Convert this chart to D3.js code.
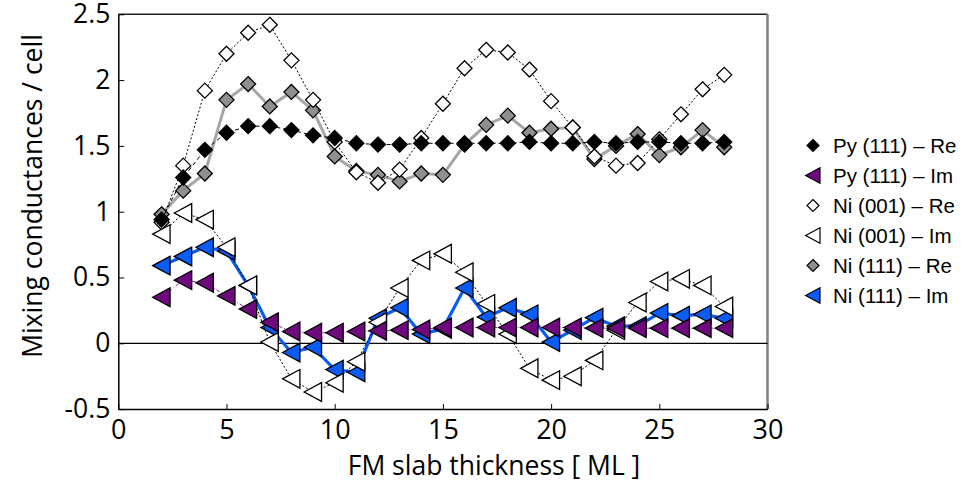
<!DOCTYPE html>
<html>
<head>
<meta charset="utf-8">
<script src="https://cdn.jsdelivr.net/npm/d3@7"></script>
<style>
  html, body { margin: 0; padding: 0; background: #fff; }
  svg { display: block; }
</style>
</head>
<body>
<svg id="chart" width="967" height="486"></svg>
<script>
// FM slab thickness in monolayers
const thickness = [2, 3, 4, 5, 6, 7, 8, 9, 10, 11, 12, 13, 14, 15, 16, 17, 18, 19, 20, 21, 22, 23, 24, 25, 26, 27, 28];

// Mixing conductances per cell, real and imaginary parts
const pyRe111 = [0.94, 1.26, 1.47, 1.60, 1.65, 1.65, 1.62, 1.58, 1.56, 1.52, 1.51, 1.51, 1.52, 1.52, 1.52, 1.52, 1.52, 1.53, 1.52, 1.52, 1.53, 1.52, 1.53, 1.53, 1.52, 1.52, 1.53];
const pyIm111 = [0.35, 0.48, 0.46, 0.36, 0.26, 0.16, 0.09, 0.08, 0.08, 0.09, 0.095, 0.10, 0.105, 0.12, 0.12, 0.12, 0.12, 0.12, 0.12, 0.12, 0.115, 0.115, 0.115, 0.115, 0.115, 0.115, 0.115];
const niRe001 = [0.92, 1.35, 1.92, 2.20, 2.36, 2.42, 2.15, 1.85, 1.53, 1.30, 1.22, 1.32, 1.56, 1.82, 2.09, 2.23, 2.21, 2.08, 1.84, 1.64, 1.42, 1.35, 1.37, 1.55, 1.74, 1.93, 2.04];
const niIm001 = [0.83, 0.99, 0.94, 0.73, 0.44, 0.01, -0.27, -0.37, -0.30, -0.14, 0.16, 0.42, 0.63, 0.68, 0.54, 0.30, 0.07, -0.19, -0.28, -0.25, -0.13, 0.10, 0.31, 0.47, 0.49, 0.44, 0.28];
const niRe111 = [0.98, 1.16, 1.29, 1.85, 1.97, 1.80, 1.91, 1.77, 1.42, 1.31, 1.28, 1.23, 1.29, 1.28, 1.51, 1.66, 1.73, 1.60, 1.63, 1.64, 1.40, 1.50, 1.59, 1.43, 1.49, 1.62, 1.49];
const niIm111 = [0.59, 0.66, 0.73, 0.70, 0.44, 0.12, -0.07, -0.03, -0.20, -0.22, 0.19, 0.27, 0.07, 0.11, 0.42, 0.20, 0.27, 0.22, 0.01, 0.10, 0.195, 0.13, 0.13, 0.23, 0.21, 0.22, 0.19];

// Axis ticks
const xTicks = [0, 5, 10, 15, 20, 25, 30];
const yTicks = [-0.5, 0, 0.5, 1, 1.5, 2, 2.5];

// Series in legend order
const seriesNames = ["Py (111) \u2013 Re", "Py (111) \u2013 Im", "Ni (001) \u2013 Re", "Ni (001) \u2013 Im", "Ni (111) \u2013 Re", "Ni (111) \u2013 Im"];
const seriesValues = [pyRe111, pyIm111, niRe001, niIm001, niRe111, niIm111];

const styles = [
  { shape: "diamond",  fill: "#000000", line: "#000000", width: 1,   dash: "4,3" },
  { shape: "triangle", fill: "#6e0a7e", line: "#8a2a9a", width: 1,   dash: "4,2,1,2" },
  { shape: "diamond",  fill: "#ffffff", line: "#000000", width: 1,   dash: "2,2" },
  { shape: "triangle", fill: "#ffffff", line: "#000000", width: 1,   dash: "2,2" },
  { shape: "diamond",  fill: "#8f8f8f", line: "#a6a6a6", width: 3,   dash: null },
  { shape: "triangle", fill: "#0a5cf5", line: "#0a5cf5", width: 3.2, dash: null }
];
// Paint order: Ni (111) underneath, then Ni (001), Py on top
const drawOrder = [4, 5, 2, 3, 0, 1];

const svg = d3.select("#chart");
const plot = { left: 118.3, right: 767.5, top: 14.3, bottom: 409.1 };

const x = d3.scaleLinear().domain([0, 30]).range([plot.left, plot.right]);
const y = d3.scaleLinear().domain([-0.5, 2.5]).range([plot.bottom, plot.top]);

function markerPath(shape, s) {
  if (shape === "diamond") {
    return `M0,${-s}L${s},0L0,${s}L${-s},0Z`;
  }
  // left-pointing triangle
  const w = s * 1.05, h = s * 1.1;
  return `M${-w},0L${w * 0.95},${-h}L${w * 0.95},${h}Z`;
}

// Frame: top and right borders
svg.append("line")
  .attr("x1", plot.left).attr("x2", plot.right)
  .attr("y1", plot.top).attr("y2", plot.top)
  .attr("stroke", "#222").attr("stroke-width", 1.5);
svg.append("line")
  .attr("x1", plot.right).attr("x2", plot.right)
  .attr("y1", plot.top).attr("y2", plot.bottom)
  .attr("stroke", "#808080").attr("stroke-width", 2.5);

// Zero reference line
svg.append("line")
  .attr("x1", plot.left).attr("x2", plot.right)
  .attr("y1", y(0)).attr("y2", y(0))
  .attr("stroke", "#000").attr("stroke-width", 1.2);

const tickFont = "'Open Sans', sans-serif";

// X axis
const gx = svg.append("g")
  .attr("transform", `translate(0,${plot.bottom})`)
  .call(d3.axisBottom(x).tickValues(xTicks).tickFormat(d => String(d))
    .tickSizeInner(-5).tickSizeOuter(0).tickPadding(11));
gx.select(".domain").attr("stroke", "#000").attr("stroke-width", 1.5);
gx.selectAll(".tick line").attr("stroke", "#000");
gx.selectAll(".tick text")
  .attr("font-family", tickFont).attr("font-size", 27).attr("fill", "#000");

// Y axis
const gy = svg.append("g")
  .attr("transform", `translate(${plot.left},0)`)
  .call(d3.axisLeft(y).tickValues(yTicks).tickFormat(d => String(d))
    .tickSizeInner(-6).tickSizeOuter(0).tickPadding(8));
gy.select(".domain").attr("stroke", "#000").attr("stroke-width", 1.5);
gy.selectAll(".tick line").attr("stroke", "#000");
gy.selectAll(".tick text")
  .attr("font-family", tickFont).attr("font-size", 26.5).attr("fill", "#000");

// Axis titles
svg.append("text")
  .attr("x", 494).attr("y", 475)
  .attr("text-anchor", "middle")
  .attr("font-family", tickFont).attr("font-size", 26.5).attr("fill", "#000")
  .text("FM slab thickness [ ML ]");
svg.append("text")
  .attr("transform", `translate(42,196) rotate(-90)`)
  .attr("text-anchor", "middle")
  .attr("font-family", tickFont).attr("font-size", 26.5).attr("fill", "#000")
  .text("Mixing conductances / cell");

// Series lines and markers
const line = d3.line().x((d, i) => x(thickness[i])).y(d => y(d));
drawOrder.forEach(k => {
  const st = styles[k];
  const vals = seriesValues[k];
  const g = svg.append("g");
  g.append("path")
    .attr("d", line(vals))
    .attr("fill", "none")
    .attr("stroke", st.line)
    .attr("stroke-width", st.width)
    .attr("stroke-dasharray", st.dash)
    .attr("stroke-linejoin", "round");
  g.selectAll("path.mk")
    .data(vals)
    .join("path")
    .attr("class", "mk")
    .attr("transform", (d, i) => `translate(${x(thickness[i])},${y(d)})`)
    .attr("d", markerPath(st.shape, st.shape === "diamond" ? 7.5 : 8.5))
    .attr("fill", st.fill)
    .attr("stroke", "#000")
    .attr("stroke-width", 1.3)
    .attr("stroke-linejoin", "miter");
});

// Legend
const legend = svg.append("g").attr("transform", "translate(813,145.5)");
seriesNames.forEach((name, k) => {
  const st = styles[k];
  const row = legend.append("g").attr("transform", `translate(0,${k * 30})`);
  row.append("path")
    .attr("d", markerPath(st.shape, st.shape === "diamond" ? 6 : 7))
    .attr("fill", st.fill)
    .attr("stroke", "#000")
    .attr("stroke-width", 1.2);
  row.append("text")
    .attr("x", 20).attr("y", 0).attr("dy", "0.36em")
    .attr("font-family", "'Liberation Sans', Arial, sans-serif")
    .attr("font-size", 20.5).attr("fill", "#000")
    .text(name);
});
</script>
</body>
</html>
